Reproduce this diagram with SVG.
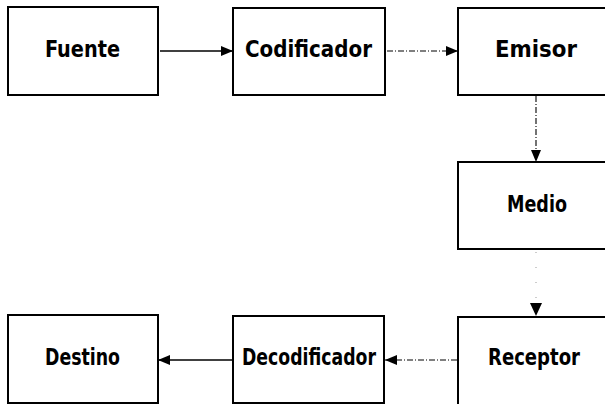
<svg xmlns="http://www.w3.org/2000/svg" width="605" height="404" viewBox="0 0 605 404">
<defs>
<marker id="ah" markerWidth="12" markerHeight="10" refX="12" refY="5" orient="auto" markerUnits="userSpaceOnUse">
<path d="M0,0 L12,5 L0,10 Z" fill="#000"/>
</marker>
<style>
.box{fill:#fff;stroke:#000;stroke-width:2}
.lbl{font-family:"DejaVu Sans","Liberation Sans",sans-serif;font-stretch:condensed;font-weight:bold;font-size:23px;fill:#000}
.solid{stroke:#000;stroke-width:1.3;fill:none}
.dash{stroke:#000;stroke-width:1.1;fill:none;stroke-dasharray:6 2 1 2}
.faint{stroke:#999;stroke-width:1;fill:none;stroke-dasharray:1 14}
</style>
</defs>
<rect width="605" height="404" fill="#fff"/>
<g id="fuente"><rect class="box" x="8" y="7" width="150" height="88"/><text class="lbl" x="45" y="57" textLength="75" lengthAdjust="spacingAndGlyphs">Fuente</text></g>
<g id="codificador"><rect class="box" x="233" y="8" width="152" height="87"/><text class="lbl" x="245" y="57" textLength="127" lengthAdjust="spacingAndGlyphs">Codificador</text></g>
<g id="emisor"><rect class="box" x="458" y="8" width="160" height="87"/><text class="lbl" x="495" y="57" textLength="82" lengthAdjust="spacingAndGlyphs">Emisor</text></g>
<g id="medio"><rect class="box" x="458" y="162" width="160" height="87"/><text class="lbl" x="507" y="212" textLength="60" lengthAdjust="spacingAndGlyphs">Medio</text></g>
<g id="receptor"><rect class="box" x="458" y="317" width="160" height="95"/><text class="lbl" x="488" y="365" textLength="92" lengthAdjust="spacingAndGlyphs">Receptor</text></g>
<g id="decodificador"><rect class="box" x="233" y="316" width="151" height="87"/><text class="lbl" x="242" y="365" textLength="134" lengthAdjust="spacingAndGlyphs">Decodificador</text></g>
<g id="destino"><rect class="box" x="8" y="315" width="150" height="88"/><text class="lbl" x="45" y="365" textLength="75" lengthAdjust="spacingAndGlyphs">Destino</text></g>
<g id="connectors">
<line class="solid" x1="160" y1="51" x2="233" y2="51" marker-end="url(#ah)"/>
<line class="dash" x1="387" y1="51" x2="458" y2="51" marker-end="url(#ah)"/>
<line class="dash" x1="536" y1="96" x2="536" y2="162" marker-end="url(#ah)"/>
<line class="faint" x1="536" y1="252" x2="536" y2="305"/>
<path d="M530,303 L542,303 L536,316 Z" fill="#000"/>
<line class="dash" x1="457" y1="360" x2="385" y2="360" marker-end="url(#ah)"/>
<line class="solid" x1="232" y1="360" x2="158" y2="360" marker-end="url(#ah)"/>
</g>
</svg>
